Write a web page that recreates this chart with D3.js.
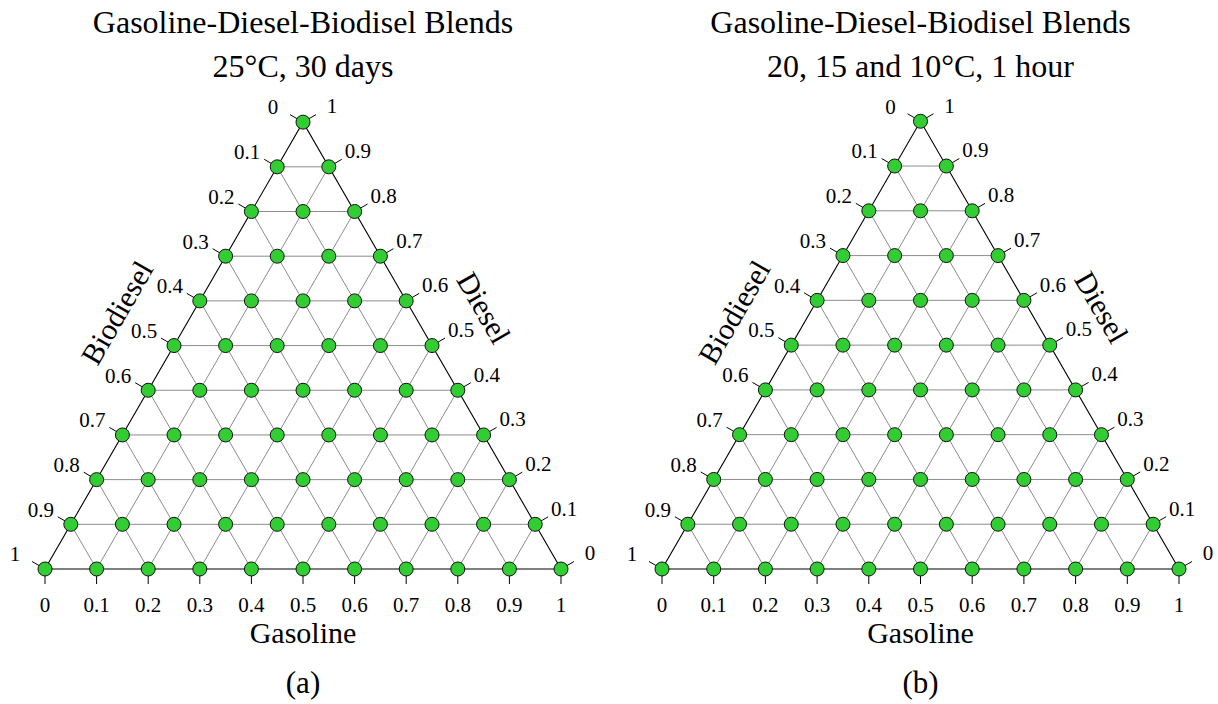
<!DOCTYPE html>
<html>
<head>
<meta charset="utf-8">
<script src="https://cdn.jsdelivr.net/npm/d3@7"></script>
<style>
  body { margin: 0; background: #fff; }
  svg { display: block; font-family: 'Liberation Serif', 'Times New Roman', serif; }
</style>
</head>
<body>
<svg id="chart" width="1218" height="704"></svg>
<script>
// tick values shared by the three axes
const tickValues = [0, 0.1, 0.2, 0.3, 0.4, 0.5, 0.6, 0.7, 0.8, 0.9, 1];
const tickLabels = ['0', '0.1', '0.2', '0.3', '0.4', '0.5', '0.6', '0.7', '0.8', '0.9', '1'];
const axisNames = ['Gasoline', 'Diesel', 'Biodiesel'];

// blends tested, [gasoline, diesel, biodiesel]
const blends25C = [
  [0, 0, 1], [0.1, 0, 0.9], [0.2, 0, 0.8], [0.3, 0, 0.7], [0.4, 0, 0.6], [0.5, 0, 0.5],
  [0.6, 0, 0.4], [0.7, 0, 0.3], [0.8, 0, 0.2], [0.9, 0, 0.1], [1, 0, 0],
  [0, 0.1, 0.9], [0.1, 0.1, 0.8], [0.2, 0.1, 0.7], [0.3, 0.1, 0.6], [0.4, 0.1, 0.5],
  [0.5, 0.1, 0.4], [0.6, 0.1, 0.3], [0.7, 0.1, 0.2], [0.8, 0.1, 0.1], [0.9, 0.1, 0],
  [0, 0.2, 0.8], [0.1, 0.2, 0.7], [0.2, 0.2, 0.6], [0.3, 0.2, 0.5], [0.4, 0.2, 0.4],
  [0.5, 0.2, 0.3], [0.6, 0.2, 0.2], [0.7, 0.2, 0.1], [0.8, 0.2, 0],
  [0, 0.3, 0.7], [0.1, 0.3, 0.6], [0.2, 0.3, 0.5], [0.3, 0.3, 0.4], [0.4, 0.3, 0.3],
  [0.5, 0.3, 0.2], [0.6, 0.3, 0.1], [0.7, 0.3, 0],
  [0, 0.4, 0.6], [0.1, 0.4, 0.5], [0.2, 0.4, 0.4], [0.3, 0.4, 0.3], [0.4, 0.4, 0.2],
  [0.5, 0.4, 0.1], [0.6, 0.4, 0],
  [0, 0.5, 0.5], [0.1, 0.5, 0.4], [0.2, 0.5, 0.3], [0.3, 0.5, 0.2], [0.4, 0.5, 0.1], [0.5, 0.5, 0],
  [0, 0.6, 0.4], [0.1, 0.6, 0.3], [0.2, 0.6, 0.2], [0.3, 0.6, 0.1], [0.4, 0.6, 0],
  [0, 0.7, 0.3], [0.1, 0.7, 0.2], [0.2, 0.7, 0.1], [0.3, 0.7, 0],
  [0, 0.8, 0.2], [0.1, 0.8, 0.1], [0.2, 0.8, 0],
  [0, 0.9, 0.1], [0.1, 0.9, 0],
  [0, 1, 0],
];

// same grid of blends for the cold test
const blendsCold = [
  [0, 0, 1], [0.1, 0, 0.9], [0.2, 0, 0.8], [0.3, 0, 0.7], [0.4, 0, 0.6], [0.5, 0, 0.5],
  [0.6, 0, 0.4], [0.7, 0, 0.3], [0.8, 0, 0.2], [0.9, 0, 0.1], [1, 0, 0],
  [0, 0.1, 0.9], [0.1, 0.1, 0.8], [0.2, 0.1, 0.7], [0.3, 0.1, 0.6], [0.4, 0.1, 0.5],
  [0.5, 0.1, 0.4], [0.6, 0.1, 0.3], [0.7, 0.1, 0.2], [0.8, 0.1, 0.1], [0.9, 0.1, 0],
  [0, 0.2, 0.8], [0.1, 0.2, 0.7], [0.2, 0.2, 0.6], [0.3, 0.2, 0.5], [0.4, 0.2, 0.4],
  [0.5, 0.2, 0.3], [0.6, 0.2, 0.2], [0.7, 0.2, 0.1], [0.8, 0.2, 0],
  [0, 0.3, 0.7], [0.1, 0.3, 0.6], [0.2, 0.3, 0.5], [0.3, 0.3, 0.4], [0.4, 0.3, 0.3],
  [0.5, 0.3, 0.2], [0.6, 0.3, 0.1], [0.7, 0.3, 0],
  [0, 0.4, 0.6], [0.1, 0.4, 0.5], [0.2, 0.4, 0.4], [0.3, 0.4, 0.3], [0.4, 0.4, 0.2],
  [0.5, 0.4, 0.1], [0.6, 0.4, 0],
  [0, 0.5, 0.5], [0.1, 0.5, 0.4], [0.2, 0.5, 0.3], [0.3, 0.5, 0.2], [0.4, 0.5, 0.1], [0.5, 0.5, 0],
  [0, 0.6, 0.4], [0.1, 0.6, 0.3], [0.2, 0.6, 0.2], [0.3, 0.6, 0.1], [0.4, 0.6, 0],
  [0, 0.7, 0.3], [0.1, 0.7, 0.2], [0.2, 0.7, 0.1], [0.3, 0.7, 0],
  [0, 0.8, 0.2], [0.1, 0.8, 0.1], [0.2, 0.8, 0],
  [0, 0.9, 0.1], [0.1, 0.9, 0],
  [0, 1, 0],
];

const titleLine1 = 'Gasoline-Diesel-Biodisel Blends';
const subtitleA = '25°C, 30 days';
const subtitleB = '20, 15 and 10°C, 1 hour';

const svg = d3.select('#chart');

class TernaryPlot {
  constructor(canvas, x0, width, yBase) {
    this.canvas = canvas;
    this.x0 = x0;
    this.width = width;
    this.height = width * Math.sqrt(3) / 2;
    this.yBase = yBase;

    // gasoline + diesel/2 runs along x, diesel runs up
    this.xScale = d3.scaleLinear().domain([0, 1]).range([x0, x0 + width]);
    this.yScale = d3.scaleLinear().domain([0, 1]).range([yBase, yBase - this.height]);
  }

  px(d) {
    return this.xScale(d[0] + d[1] / 2);
  }

  py(d) {
    return this.yScale(d[1]);
  }

  render(data, title, subtitle, tag) {
    const g = this.canvas.append('g');
    const cx = this.xScale(0.5);
    const tickLen = 15;
    const c30 = Math.cos(Math.PI / 6);

    // titles
    g.append('text').attr('x', cx).attr('y', 33)
      .attr('text-anchor', 'middle').attr('font-size', 32).text(title);
    g.append('text').attr('x', cx).attr('y', 77)
      .attr('text-anchor', 'middle').attr('font-size', 32).text(subtitle);

    // grid
    const inner = tickValues.slice(1, -1);
    const gridLines = [];
    inner.forEach((v) => {
      gridLines.push([[v, 0, 1 - v], [v, 1 - v, 0]]); // gasoline const
      gridLines.push([[0, v, 1 - v], [1 - v, v, 0]]); // diesel const
      gridLines.push([[1 - v, 0, v], [0, 1 - v, v]]); // biodiesel const
    });
    g.append('g').selectAll('line').data(gridLines).enter()
      .append('line')
      .attr('x1', d => this.px(d[0]))
      .attr('y1', d => this.py(d[0]))
      .attr('x2', d => this.px(d[1]))
      .attr('y2', d => this.py(d[1]))
      .attr('stroke', '#8c8c8c')
      .attr('stroke-width', 1);

    // outline
    const corners = [[0, 0, 1], [1, 0, 0], [0, 1, 0]];
    g.append('path')
      .attr('d', `M${corners.map(d => `${this.px(d)},${this.py(d)}`).join('L')}Z`)
      .attr('fill', 'none')
      .attr('stroke', '#000')
      .attr('stroke-width', 1.1);

    // axes: bottom = gasoline, right = diesel, left = biodiesel
    const axes = [
      {
        pos: v => [v, 0, 1 - v], dir: [0, 1], lab: [0, 36],
      },
      {
        pos: v => [1 - v, v, 0], dir: [c30, -0.5], lab: [29, -16],
      },
      {
        pos: v => [0, 1 - v, v], dir: [-c30, -0.5], lab: [-30, -15],
      },
    ];
    axes.forEach((axis) => {
      const ax = g.append('g');
      ax.selectAll('line').data(tickValues).enter()
        .append('line')
        .attr('x1', v => this.px(axis.pos(v)))
        .attr('y1', v => this.py(axis.pos(v)))
        .attr('x2', v => this.px(axis.pos(v)) + axis.dir[0] * tickLen)
        .attr('y2', v => this.py(axis.pos(v)) + axis.dir[1] * tickLen)
        .attr('stroke', '#000')
        .attr('stroke-width', 1);
      ax.selectAll('text').data(tickValues).enter()
        .append('text')
        .attr('x', v => this.px(axis.pos(v)) + axis.lab[0])
        .attr('y', v => this.py(axis.pos(v)) + axis.lab[1])
        .attr('dy', '0.35em')
        .attr('text-anchor', 'middle')
        .attr('font-size', 21)
        .text((v, i) => tickLabels[i]);
    });

    // axis titles
    g.append('text')
      .attr('x', cx).attr('y', this.yBase + 74)
      .attr('text-anchor', 'middle').attr('font-size', 30)
      .text(axisNames[0]);
    const midR = [0.5, 0.5, 0];
    const midL = [0, 0.5, 0.5];
    g.append('text')
      .attr('transform', `translate(${this.px(midR) + c30 * 60},${this.py(midR) - 0.5 * 60 - 8}) rotate(60)`)
      .attr('text-anchor', 'middle').attr('dy', '0.35em').attr('font-size', 30)
      .text(axisNames[1]);
    g.append('text')
      .attr('transform', `translate(${this.px(midL) - c30 * 66},${this.py(midL) - 0.5 * 66}) rotate(-60)`)
      .attr('text-anchor', 'middle').attr('dy', '0.35em').attr('font-size', 30)
      .text(axisNames[2]);

    // blends
    g.append('g').selectAll('circle').data(data).enter()
      .append('circle')
      .attr('cx', d => this.px(d))
      .attr('cy', d => this.py(d))
      .attr('r', 7)
      .attr('fill', '#32cd32')
      .attr('stroke', '#111')
      .attr('stroke-width', 1);

    g.append('text')
      .attr('x', cx).attr('y', 693)
      .attr('text-anchor', 'middle').attr('font-size', 31)
      .text(tag);
  }
}

const plotA = new TernaryPlot(svg, 45, 516, 569);
plotA.render(blends25C, titleLine1, subtitleA, '(a)');

const plotB = new TernaryPlot(svg, 662, 517, 569);
plotB.render(blendsCold, titleLine1, subtitleB, '(b)');
</script>
</body>
</html>
